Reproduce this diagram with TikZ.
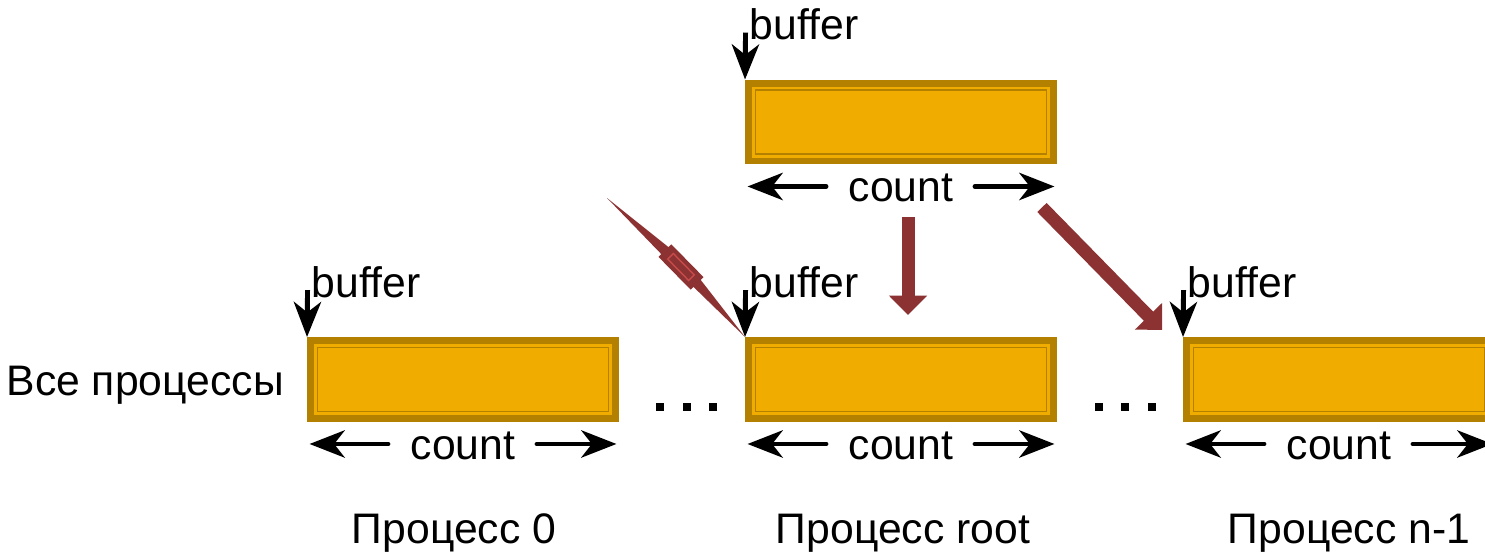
\documentclass[tikz,border=0pt]{standalone}
\usepackage{fontspec}
\setmainfont{Liberation Sans}
\usetikzlibrary{arrows.meta,calc}

\definecolor{buffill}{RGB}{240,173,0}
\definecolor{bufedge}{RGB}{179,128,0}
\definecolor{sendred}{RGB}{140,50,50}
\definecolor{sendlight}{RGB}{200,75,75}

\tikzstyle{buffer}=[draw=bufedge,fill=buffill,line width=3.97pt,minimum width=6.1cm,minimum height=1.56cm,inner sep=0pt,
    path picture={\draw[bufedge,line width=0.9pt] ([shift={(0.14cm,-0.14cm)}]path picture bounding box.north west) rectangle ([shift={(-0.14cm,0.14cm)}]path picture bounding box.south east);}]
\tikzstyle{lbl}=[font=\fontsize{24.3}{29}\selectfont,inner sep=0pt]
\tikzstyle{ptr}=[draw,line width=2.8pt,-{Stealth[length=20pt,width=15.5pt,inset=6pt]}]
\tikzstyle{dim}=[draw,line width=2.8pt,line cap=round,-{Stealth[length=20pt,width=15.5pt,inset=6pt]}]
\tikzstyle{send}=[draw=sendred,line width=7.4pt,-{Triangle[length=11pt,width=21pt]}]

\begin{document}
\begin{tikzpicture}[x=0.02cm, y=-0.02cm]
    \clip (0,0) rectangle (1485,552);
    % First we draw the buffers
    \foreach \pos/\name in {{(901,122)/top}, {(463,379.5)/p0}, {(901,379.5)/proot}, {(1339,379.5)/pn}}
        \node[buffer] (\name) at \pos {};
    % Pointer and size of every buffer
    \foreach \name in {top,p0,proot,pn} {
        \node[lbl,anchor=base west] (\name-buf) at ($(\name.north west)+(4.5,-40)$) {buffer};
        \coordinate (\name-ptr) at ($(\name.north west)+(0.5,-47)$);
        \draw[ptr] (\name-ptr) -- (\name.north west);
        \node[lbl,anchor=base] (\name-cnt) at ($(\name.south)+(0,37.5)$) {count};
        \coordinate (\name-l) at ($(\name.south)+(-75,22)$);
        \coordinate (\name-r) at ($(\name.south)+(74,22)$);
        \draw[dim] (\name-l) -- ($(\name.south west)+(2.5,22)$);
        \draw[dim] (\name-r) -- ($(\name.south east)+(-2.5,22)$);
    }
    % Sending from root
    \coordinate (down-s) at ($(top.south)+(7,53)$);
    \coordinate (down-e) at ($(proot.north)+(7,-22)$);
    \draw[send] (down-s) -- (down-e);
    \coordinate (diag-s) at ($(top.south east)+(-15,43)$);
    \coordinate (diag-e) at ($(pn.north west)+(-21,-7)$);
    \draw[send] (diag-s) -- (diag-e);
    \fill[sendred] (607,198) -- (668.5,247.1) -- (671.3,244.3) -- (703.5,277.1) -- (700.7,279.9)
        -- (proot.north west) -- (693.5,286.9) -- (690.7,289.7) -- (658.5,256.9) -- (661.3,254.1) -- cycle;
    \draw[sendlight,line width=0.8pt] (673.3,253.5) -- (694.3,274.9) -- (688.7,280.5) -- (667.7,259.1) -- cycle;
    % Dots between the processes
    \foreach \cx in {660,687,713,1099,1125,1152}
        \fill (\cx-4,403) rectangle +(8,8);
    % Labels
    \node[lbl,anchor=base east] (all) at ($(p0.west)+(-23,16)$) {Все процессы};
    \node[lbl,anchor=base] (name0) at ($(p0.south)+(-9,121.5)$) {Процесс 0};
    \node[lbl,anchor=base] (nameroot) at ($(proot.south)+(2,121.5)$) {Процесс root};
    \node[lbl,anchor=base] (namen) at ($(pn.south)+(10,122)$) {Процесс n-1};
\end{tikzpicture}
\end{document}
